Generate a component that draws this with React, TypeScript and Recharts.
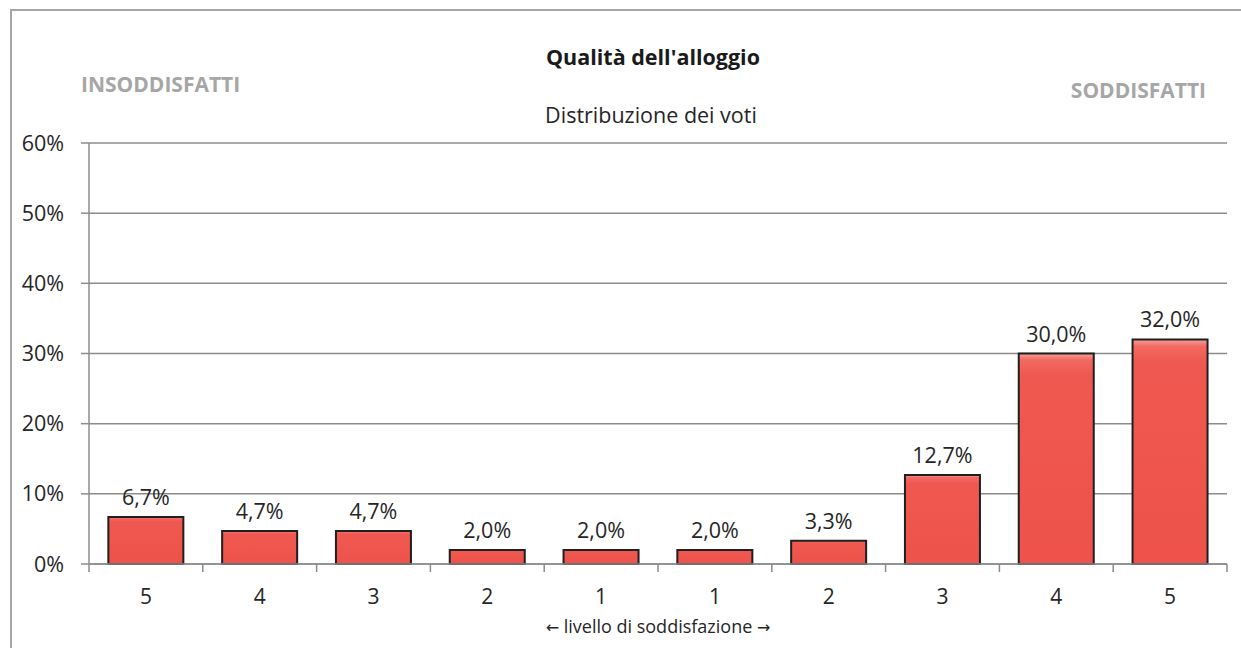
import { BarChart, Bar, XAxis, YAxis, CartesianGrid, LabelList } from "recharts";

const livelli = ["5", "4", "3", "2", "1", "1", "2", "3", "4", "5"];
const percentuali = [6.7, 4.7, 4.7, 2.0, 2.0, 2.0, 3.3, 12.7, 30.0, 32.0];
const yTicks = [0, 10, 20, 30, 40, 50, 60];

const data = percentuali.map((v, i) => ({ id: `c${i}`, valore: v }));

const FONT = "'Open Sans', sans-serif";
const TXT = "#262626";
const GRID = "#8c8c8c";

const fmtPct = (v: number) => `${v.toFixed(1).replace(".", ",")}%`;

function XTick(props: any) {
  const { x, y, payload, index } = props;
  const half = payload?.offset ?? 56.9;
  return (
    <g>
      <line x1={x - half} y1={y} x2={x - half} y2={y + 8} stroke={GRID} strokeWidth={1.5} />
      {index === livelli.length - 1 && (
        <line x1={x + half} y1={y} x2={x + half} y2={y + 8} stroke={GRID} strokeWidth={1.5} />
      )}
      <text x={x} y={y + 40} textAnchor="middle" fontSize={21} fill={TXT} fontFamily={FONT}>
        {livelli[index]}
      </text>
    </g>
  );
}

const arrow = { fontFamily: "'DejaVu Sans', sans-serif", fontSize: 16 };

export default function App() {
  return (
    <div
      style={{
        position: "absolute",
        left: 0,
        top: 0,
        width: 1241,
        height: 648,
        overflow: "hidden",
        background: "#fff",
        fontFamily: FONT,
      }}
    >
      <div
        style={{
          position: "absolute",
          left: 10,
          top: 9,
          width: 1300,
          height: 700,
          border: "2px solid #a6a6a6",
        }}
      />
      <BarChart
        width={1241}
        height={648}
        data={data}
        margin={{ top: 143, right: 14, bottom: 54, left: 0 }}
        barCategoryGap="17%"
      >
        <defs>
          <linearGradient id="barFill" x1="0" y1="0" x2="0" y2="1">
            <stop offset="0" stopColor="#f7a29c" />
            <stop offset="0.03" stopColor="#f26a62" />
            <stop offset="0.1" stopColor="#ef5850" />
            <stop offset="1" stopColor="#ee524a" />
          </linearGradient>
        </defs>
        <CartesianGrid vertical={false} stroke={GRID} strokeWidth={1.5} />
        <XAxis
          dataKey="id"
          height={30}
          tickLine={false}
          tickSize={0}
          tickMargin={0}
          interval={0}
          axisLine={{ stroke: GRID, strokeWidth: 1.5 }}
          tick={<XTick />}
        />
        <YAxis
          width={89}
          domain={[0, 60]}
          ticks={yTicks}
          tickFormatter={(v: number) => `${v}%`}
          tickSize={8}
          tickMargin={17}
          tickLine={{ stroke: GRID, strokeWidth: 1.5 }}
          axisLine={{ stroke: GRID, strokeWidth: 1.5 }}
          tick={{ fontSize: 21.5, fill: TXT, fontFamily: FONT }}
        />
        <Bar
          dataKey="valore"
          fill="url(#barFill)"
          stroke="#1f1f1f"
          strokeWidth={2}
          isAnimationActive={false}
        >
          <LabelList
            dataKey="valore"
            position="top"
            offset={12}
            formatter={(v: any) => fmtPct(Number(v))}
            style={{ fontSize: 21.5, fill: TXT, fontFamily: FONT }}
          />
        </Bar>
      </BarChart>

      <div
        style={{
          position: "absolute",
          left: 0,
          width: 1306,
          top: 42,
          textAlign: "center",
          fontSize: 21.5,
          fontWeight: 700,
          color: "#1a1a1a",
        }}
      >
        Qualità dell'alloggio
      </div>
      <div
        style={{
          position: "absolute",
          left: 0,
          width: 1302,
          top: 100,
          textAlign: "center",
          fontSize: 21.5,
          color: TXT,
        }}
      >
        Distribuzione dei voti
      </div>
      <div
        style={{
          position: "absolute",
          left: 81,
          top: 70,
          fontSize: 21,
          fontWeight: 700,
          color: "#a6a6a6",
        }}
      >
        INSODDISFATTI
      </div>
      <div
        style={{
          position: "absolute",
          right: 1241 - 1206,
          top: 76,
          fontSize: 21,
          fontWeight: 700,
          color: "#a6a6a6",
        }}
      >
        SODDISFATTI
      </div>
      <div
        style={{
          position: "absolute",
          left: 0,
          width: 1316,
          top: 614,
          textAlign: "center",
          fontSize: 18,
          color: TXT,
        }}
      >
        <span style={arrow}>←</span> livello di soddisfazione <span style={arrow}>→</span>
      </div>
    </div>
  );
}
